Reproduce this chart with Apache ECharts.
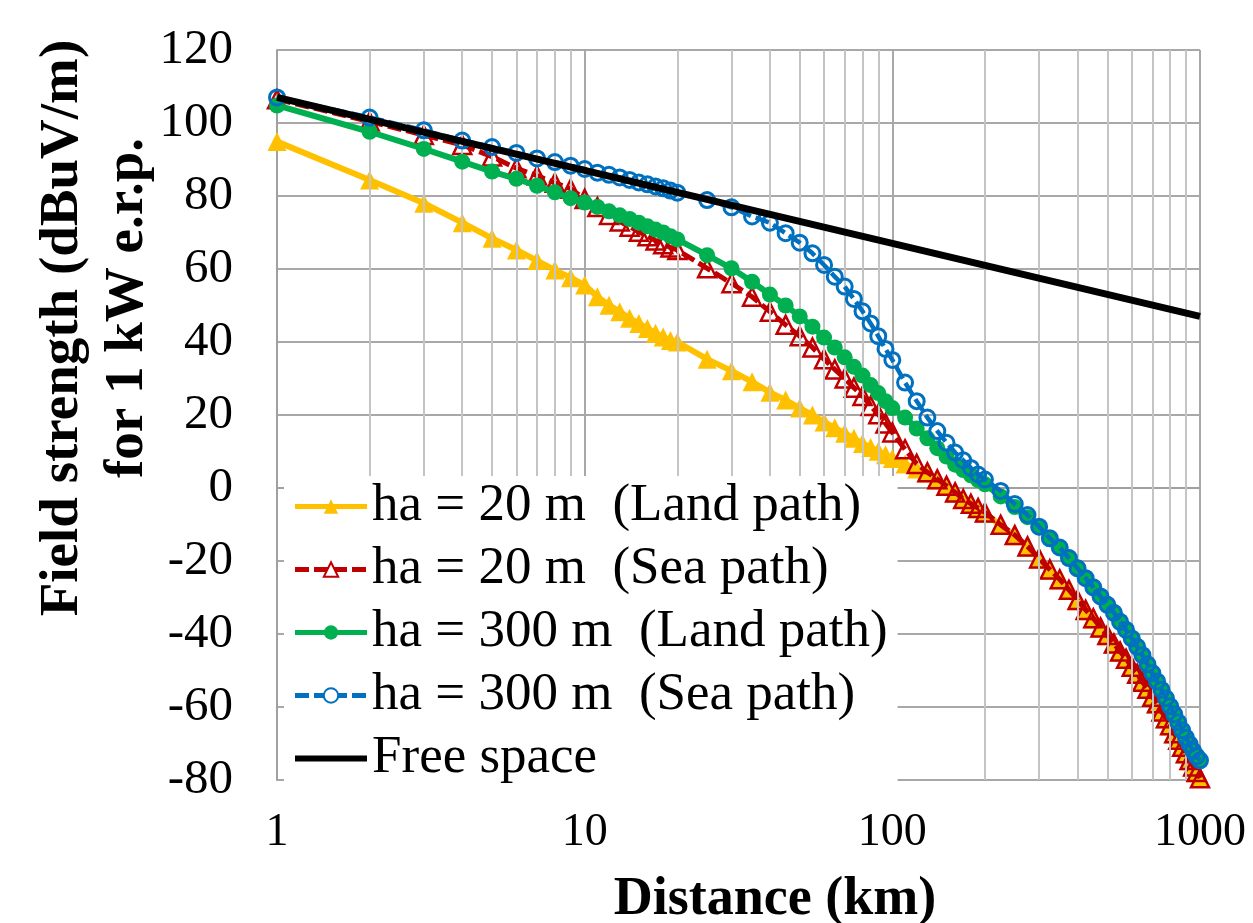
<!DOCTYPE html>
<html>
<head>
<meta charset="utf-8">
<script src="https://cdn.jsdelivr.net/npm/echarts@6/dist/echarts.min.js"></script>
<style>
html,body{margin:0;padding:0;background:#fff;}
#chart{width:1253px;height:923px;}
</style>
</head>
<body>
<div id="chart"></div>
<script>
// ---- data ----
const distancesKm = [1,2,3,4,5,6,7,8,9,10,11,12,13,14,15,16,17,18,19,20,
  25,30,35,40,45,50,55,60,65,70,75,80,85,90,95,100,
  110,120,130,140,150,160,170,180,190,200,
  225,250,275,300,325,350,375,400,425,450,475,500,525,550,575,600,625,650,675,700,
  725,750,775,800,825,850,875,900,925,950,975,1000];

const land20 = [94.9,84.4,78.0,72.7,68.4,65.2,62.3,59.7,57.6,55.6,
  52.4,50.1,48.3,46.5,45.1,43.7,42.4,41.4,40.4,40.0,
  35.3,32.1,29.1,26.2,24.1,21.9,20.0,18.1,16.5,15.0,13.6,12.2,11.1,10.1,9.1,8.1,
  6.6,5.2,4.1,2.2,0.4,-1.4,-3.1,-4.5,-5.7,-6.9,
  -10.3,-13.1,-16.2,-19.5,-22.5,-25.2,-28.0,-30.9,-33.6,-35.9,-38.4,-40.5,-42.8,-45.0,-47.0,-49.2,
  -51.1,-53.3,-55.2,-57.4,-59.2,-61.4,-63.3,-65.2,-67.4,-69.2,-71.1,-72.9,-74.7,-76.5,-78.0,-79.6];

const sea20 = [106.5,100.4,96.7,94.0,90.8,87.6,85.6,83.6,82.0,79.2,
  77.0,74.8,73.0,71.6,70.2,69.0,67.8,66.8,65.9,65.2,
  60.2,56.1,52.4,48.3,44.7,41.6,38.5,35.3,32.5,30.0,27.5,25.2,22.5,20.2,17.7,15.2,
  10.6,6.6,4.3,2.4,0.6,-1.2,-3.0,-4.3,-5.5,-6.7,
  -10.1,-12.9,-16.0,-19.3,-22.3,-25.0,-27.9,-30.7,-33.4,-35.7,-38.2,-40.3,-42.6,-44.8,-46.8,-49.0,
  -50.9,-53.1,-55.0,-57.2,-59.0,-61.2,-63.1,-65.0,-67.2,-69.0,-70.9,-72.7,-74.5,-76.3,-77.8,-79.5];

const land300 = [104.8,97.6,92.9,89.4,86.7,84.7,82.8,81.0,79.4,78.2,
  77.0,75.8,74.7,73.7,72.7,71.7,70.8,70.0,69.0,68.1,
  63.8,60.2,56.5,53.0,50.0,47.0,44.2,41.2,38.5,35.8,33.2,30.8,28.2,26.0,23.8,21.9,
  19.3,16.3,13.6,10.9,8.6,6.4,4.9,3.5,2.2,1.0,
  -2.3,-5.2,-8.0,-10.8,-13.9,-16.4,-19.0,-21.8,-24.5,-27.1,-29.5,-31.8,-34.1,-36.4,-38.6,-41.0,
  -43.3,-45.6,-48.1,-50.5,-52.8,-55.1,-57.4,-59.7,-61.9,-64.1,-66.3,-68.3,-70.1,-71.9,-73.3,-74.4];

const sea300 = [107.0,101.5,98.0,95.2,93.4,91.8,90.3,89.3,88.3,87.4,
  86.4,85.8,85.1,84.4,83.7,83.2,82.6,82.1,81.5,80.9,
  78.9,76.9,74.4,72.7,69.8,67.2,64.3,61.1,57.9,55.2,51.8,48.4,45.1,41.6,38.1,35.1,
  28.9,23.8,19.3,15.6,12.4,9.7,7.6,5.5,3.7,2.3,
  -0.8,-4.4,-7.4,-10.6,-13.8,-16.3,-19.2,-22.0,-24.7,-27.2,-29.7,-32.0,-34.2,-36.7,-38.9,-41.2,
  -43.5,-45.8,-48.3,-50.7,-53.0,-55.3,-57.6,-59.8,-62.0,-64.2,-66.4,-68.4,-70.2,-72.0,-73.5,-74.6];

const freeSpaceKm = [1, 1000];
const freeSpace = [107.0, 47.0];

const minorGridKm = [2,3,4,5,6,7,8,9,20,30,40,50,60,70,80,90,200,300,400,500,600,700,800,900];

const seriesNames = ['ha = 20 m  (Land path)','ha = 20 m  (Sea path)','ha = 300 m  (Land path)','ha = 300 m  (Sea path)','Free space'];
const yTitle1 = 'Field strength (dBuV/m)';
const yTitle2 = 'for 1 kW e.r.p.';
const xTitle = 'Distance (km)';

// ---- chart ----
const pairs = (xs, ys) => xs.map((x, i) => [x, ys[i]]);
const FONT = '"Liberation Serif", "Times New Roman", serif';
const YEL = '#FFC000', RED = '#C00000', GRN = '#00B050', BLU = '#0070C0';

const chart = echarts.init(document.getElementById('chart'), null, {renderer: 'canvas'});
chart.setOption({
  animation: false,
  backgroundColor: '#fff',
  grid: {left: 277, right: 53, top: 50, bottom: 143, containLabel: false},
  xAxis: {
    type: 'log', logBase: 10, min: 1, max: 1000,
    axisLine: {show: true, lineStyle: {color: '#a0a0a0', width: 2}},
    axisTick: {show: false},
    axisLabel: {fontFamily: FONT, fontSize: 46, color: '#000', margin: 30,
      formatter: v => String(v)},
    splitLine: {show: true, lineStyle: {color: '#a8a8a8', width: 2}},
    minorTick: {show: false}, minorSplitLine: {show: false}
  },
  yAxis: {
    type: 'value', min: -80, max: 120, interval: 20,
    axisLine: {show: true, lineStyle: {color: '#a0a0a0', width: 2}},
    axisTick: {show: false},
    axisLabel: {fontFamily: FONT, fontSize: 49, color: '#000', margin: 44},
    splitLine: {show: true, lineStyle: {color: '#a8a8a8', width: 2}}
  },
  legend: {
    orient: 'vertical', left: 284, top: 476, z: 20,
    backgroundColor: '#ffffff', borderWidth: 0,
    padding: [4, 10, 4, 8], itemGap: 10,
    itemWidth: 72, itemHeight: 18,
    textStyle: {fontFamily: FONT, fontSize: 53, color: '#000', lineHeight: 50},
    data: [
      {name: seriesNames[0], lineStyle: {width: 5}},
      {name: seriesNames[1], itemStyle: {color: '#fff'}, lineStyle: {width: 5}},
      {name: seriesNames[2], lineStyle: {width: 5}},
      {name: seriesNames[3], itemStyle: {color: '#fff'}, lineStyle: {width: 5}},
      {name: seriesNames[4], itemStyle: {opacity: 0}, lineStyle: {width: 6}}
    ]
  },
  graphic: [
    {type: 'text', x: 63, y: 328, rotation: Math.PI / 2, z: 10,
      style: {text: yTitle1, font: 'bold 55px ' + FONT, fill: '#000',
        align: 'center', verticalAlign: 'middle', textAlign: 'center', textVerticalAlign: 'middle'}},
    {type: 'text', x: 128, y: 308, rotation: Math.PI / 2, z: 10,
      style: {text: yTitle2, font: 'bold 55px ' + FONT, fill: '#000',
        align: 'center', verticalAlign: 'middle', textAlign: 'center', textVerticalAlign: 'middle'}},
    {type: 'text', x: 775, y: 900, z: 10,
      style: {text: xTitle, font: 'bold 54px ' + FONT, fill: '#000',
        align: 'center', verticalAlign: 'middle', textAlign: 'center', textVerticalAlign: 'middle'}}
  ],
  series: [
    {
      name: 'minorGrid', type: 'line', data: [], z: 0, silent: true,
      markLine: {
        silent: true, symbol: 'none', animation: false,
        label: {show: false},
        lineStyle: {color: '#c4c4c4', width: 2, type: 'solid'},
        data: minorGridKm.map(v => ({xAxis: v}))
      }
    },
    {
      name: seriesNames[0], type: 'line', z: 3, data: pairs(distancesKm, land20),
      symbol: 'triangle', symbolSize: 19, showAllSymbol: true,
      lineStyle: {color: YEL, width: 6},
      itemStyle: {color: YEL}
    },
    {
      name: seriesNames[1], type: 'line', z: 4, data: pairs(distancesKm, sea20),
      symbol: 'triangle', symbolSize: 18, showAllSymbol: true,
      lineStyle: {color: RED, width: 5, type: [14, 5]},
      itemStyle: {color: 'rgba(255,255,255,0)', borderColor: RED, borderWidth: 2.5}
    },
    {
      name: seriesNames[2], type: 'line', z: 5, data: pairs(distancesKm, land300),
      symbol: 'circle', symbolSize: 16, showAllSymbol: true,
      lineStyle: {color: GRN, width: 6},
      itemStyle: {color: GRN}
    },
    {
      name: seriesNames[3], type: 'line', z: 6, data: pairs(distancesKm, sea300),
      symbol: 'circle', symbolSize: 15, showAllSymbol: true,
      lineStyle: {color: BLU, width: 4.5, type: [14, 5]},
      itemStyle: {color: 'rgba(255,255,255,0)', borderColor: BLU, borderWidth: 3}
    },
    {
      name: seriesNames[4], type: 'line', z: 7, data: pairs(freeSpaceKm, freeSpace),
      symbol: 'none', showSymbol: false,
      lineStyle: {color: '#000', width: 7},
      itemStyle: {color: '#000'}
    }
  ]
});
</script>
</body>
</html>
